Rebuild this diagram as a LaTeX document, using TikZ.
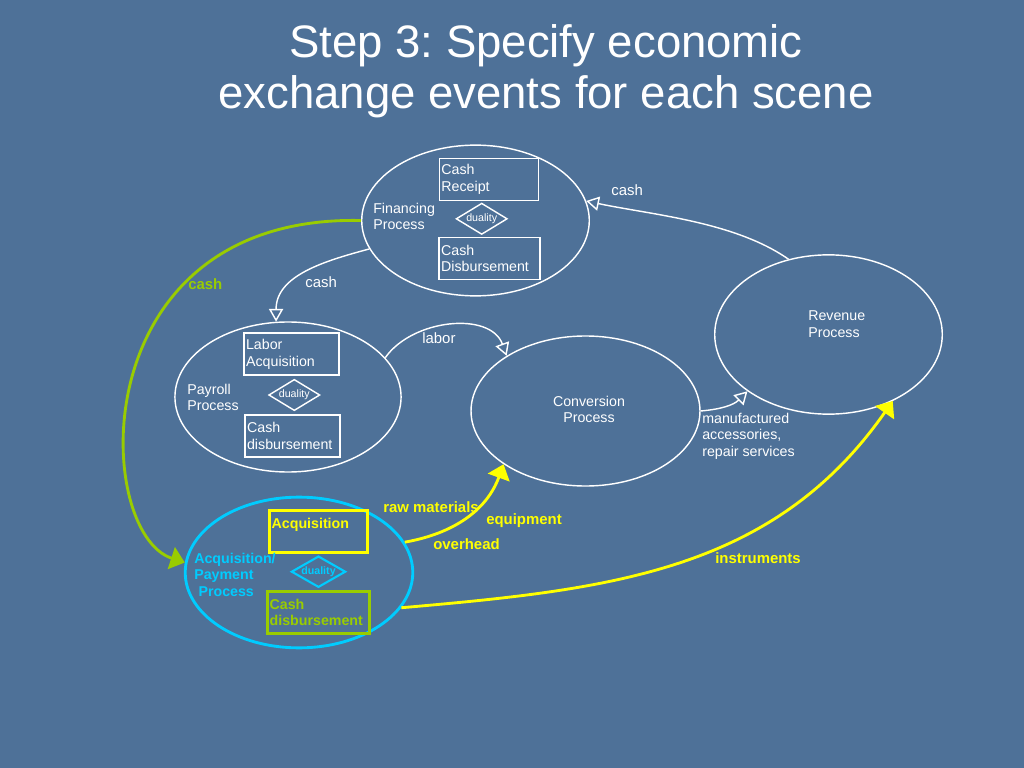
\documentclass[tikz,border=0pt]{standalone}
\usepackage{fontspec}
\setmainfont{Liberation Sans}
\usetikzlibrary{positioning,shapes.geometric,arrows.meta}
\definecolor{slidebg}{RGB}{78,113,152}
\definecolor{yel}{RGB}{255,255,0}
\definecolor{grn}{RGB}{153,204,0}
\definecolor{cyn}{RGB}{0,204,255}
\frenchspacing

\begin{document}
\begin{tikzpicture}
[
    x = 0.703125pt, y = -0.703125pt,
    node distance = 1pt,
    procstyle/.style = {ellipse,
                        draw=white,
                        line width=1pt,
                        minimum width=160pt,
                        minimum height=106pt,
                        inner sep=0pt},
    boxstyle/.style  = {rectangle,
                        draw=white,
                        line width=1pt,
                        inner sep=1.5pt,
                        minimum height=29.5pt,
                        text width=66pt,
                        align=left,
                        text=white,
                        font=\fontsize{10}{11.7}\selectfont},
    dualstyle/.style = {diamond,
                        aspect=2,
                        draw=white,
                        line width=1pt,
                        inner sep=0pt,
                        minimum width=36pt,
                        minimum height=22pt,
                        text=white,
                        font=\fontsize{7.5}{9}\selectfont},
    lblstyle/.style  = {inner sep=0pt,
                        align=left,
                        text=white,
                        font=\fontsize{10}{11.7}\selectfont},
    flowlbl/.style   = {inner sep=0pt,
                        text=white,
                        font=\fontsize{10.5}{12}\selectfont},
    boldlbl/.style   = {inner sep=0pt,
                        text=yel,
                        font=\fontsize{10.5}{12}\selectfont\bfseries},
    arr/.style       = {line width=1pt,
                        white,
                        -{Triangle[open, length=9pt, width=10pt]}},
    yarr/.style      = {line width=2pt,
                        yel,
                        -{Triangle[length=10pt, width=16pt]}},
    garr/.style      = {line width=2pt,
                        grn,
                        -{Triangle[length=10pt, width=16pt]}}
]

\path[use as bounding box, fill=slidebg] (0,0) rectangle (1024,768);

\node (title) [text=white, align=center, font=\fontsize{32}{36}\selectfont] at (546,71) {
Step 3: Specify economic\\exchange events for each scene
};

\node (fin) [procstyle] at (475.5,220.5) {};

\node (rev) [procstyle, minimum height=112pt] at (828.5,334.5) {};

\node (pay) [procstyle, minimum width=159pt, minimum height=105.5pt] at (288,397) {};

\node (conv) [procstyle, minimum width=161pt, minimum height=105.5pt] at (585.5,411) {};

\node (acq) [procstyle, draw=cyn, line width=2pt] at (299,572.5) {};

\node (fd) [dualstyle] at (481.7,218.8) {
duality
};

\node (fbox1) [boxstyle, above=of fd, xshift=5pt, text width=66.6pt] {
Cash\\Receipt
};

\node (fbox2) [boxstyle, below=of fd, xshift=5.5pt, text width=68pt] {
Cash\\Disbursement
};

\node (pd) [dualstyle] at (294.3,395) {
duality
};

\node (pbox1) [boxstyle, above=2pt of pd, xshift=-2pt, text width=63.8pt] {
Labor\\Acquisition
};

\node (pbox2) [boxstyle, below=2pt of pd, xshift=-1.3pt, text width=63.8pt] {
Cash\\disbursement
};

\node (ad) [dualstyle, draw=cyn, text=cyn, line width=1.5pt, font=\fontsize{7.5}{9}\selectfont\bfseries] at (318.5,571.7) {
duality
};

\node (abox1) [boxstyle, above=of ad, draw=yel, text=yel, line width=2pt, text width=65.9pt, font=\fontsize{10}{11.7}\selectfont\bfseries] {
Acquisition\\~
};

\node (abox2) [boxstyle, below=of ad, draw=grn, text=grn, line width=2pt, text width=68.7pt, font=\fontsize{10}{11.7}\selectfont\bfseries] {
Cash\\disbursement
};

\node (finlbl) [lblstyle, anchor=north west] at (373,202.7) {
Financing\\Process
};

\node (paylbl) [lblstyle, anchor=north west] at (187,383.7) {
Payroll\\Process
};

\node (revlbl) [lblstyle, anchor=north west] at (808,310.7) {
Revenue\\Process
};

\node (convlbl) [lblstyle, align=center, anchor=north] at (589,395.7) {
Conversion\\Process
};

\node (acqlbl) [lblstyle, anchor=north west, text=cyn, font=\fontsize{10}{11.7}\selectfont\bfseries] at (194,552.7) {
Acquisition/\\Payment\\\hspace*{3pt}Process
};

\node (mfglbl) [lblstyle, anchor=north west] at (702,412.7) {
manufactured\\accessories,\\repair services
};

\node (cash1) [flowlbl, anchor=base west] at (611,196) {cash};
\node (cash2) [flowlbl, anchor=base west] at (305,287) {cash};
\node (labor) [flowlbl, anchor=base west] at (422,343) {labor};
\node (cash3) [boldlbl, text=grn, anchor=base west] at (188,290) {cash};
\node (raw)   [boldlbl, anchor=base west] at (383,512) {raw materials};
\node (equip) [boldlbl, anchor=base west] at (486,524) {equipment};
\node (ovh)   [boldlbl, anchor=base west] at (433,549) {overhead};
\node (instr) [boldlbl, anchor=base west] at (715,563) {instruments};

\draw[arr] (rev.118) to[out=145, in=-12, looseness=0.8] (fin.10);
\draw[arr] (fin.195) to[out=195, in=90] (pay.99);
\draw[arr] (pay.22) to[out=55, in=110] (conv.145);
\draw[arr] (conv.0) to[out=5, in=225] (rev.215);
\draw[garr] (fin.180) .. controls +(-280,-6) and +(-92,-30) .. (acq.175);
\draw[yarr] (acq.16) to[out=10, in=250] (conv.213);
\draw[yarr] (acq.-19) to[out=5, in=235] (rev.-46);

\end{tikzpicture}
\end{document}
